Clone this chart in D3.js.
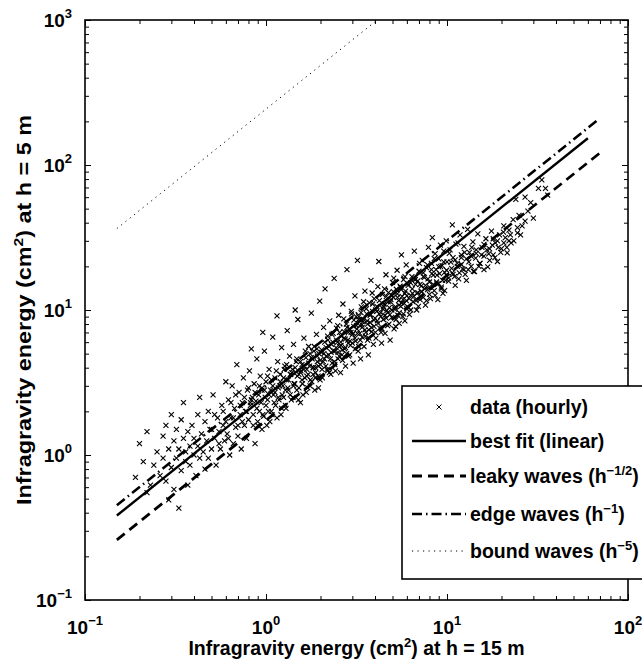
<!DOCTYPE html>
<html>
<head>
<meta charset="utf-8">
<script src="https://cdn.jsdelivr.net/npm/d3@7"></script>
<style>
body { margin: 0; background: #fff; }
text { font-family: "Liberation Sans", Arial, Helvetica, sans-serif; font-weight: bold; fill: #000; }
</style>
</head>
<body>
<div id="chart"></div>
<script>
// hourly energies: [E at 15 m, E at 5 m]
var scatterLow = [[0.19,0.7],[0.2,1.2],[0.21,0.9],[0.22,1.45],[0.22,0.55],[0.23,0.62],[0.24,0.85],[0.25,1.05],[0.26,0.72],[0.27,0.95],[0.27,1.35],[0.28,1.6],[0.28,0.66],[0.29,1.1],[0.29,0.49],[0.30,0.82],[0.30,1.9],[0.31,0.58],[0.31,1.25],[0.32,0.95],[0.32,1.5],[0.33,0.43],[0.33,1.1],[0.34,0.78],[0.34,1.75],[0.35,1.3],[0.35,2.3],[0.36,1.05],[0.36,0.9],[0.37,0.62],[0.37,1.45],[0.38,1.15],[0.38,0.85],[0.39,1.6],[0.40,1.0],[0.40,1.3],[0.41,0.72],[0.42,1.9],[0.42,1.15],[0.43,2.5],[0.43,0.95],[0.44,1.4],[0.45,1.05],[0.46,0.8],[0.46,1.7],[0.47,1.25],[0.48,2.0],[0.48,0.95],[0.49,1.5],[0.50,1.1],[0.51,2.6],[0.52,1.3],[0.53,0.85],[0.54,1.8],[0.55,1.45],[0.56,1.1],[0.57,2.2],[0.58,1.6],[0.59,1.25],[0.60,3.2]];
var scatterMidLow = [[0.61,1.4],[0.62,2.4],[0.63,1.0],[0.64,1.8],[0.65,3.0],[0.66,1.2],[0.67,2.1],[0.68,1.55],[0.69,4.2],[0.70,1.35],[0.71,2.7],[0.72,1.9],[0.73,1.1],[0.74,2.3],[0.75,3.4],[0.76,1.6],[0.77,2.0],[0.78,1.3],[0.79,2.8],[0.80,1.75],[0.81,3.8],[0.82,2.2],[0.83,5.4],[0.84,2.5],[0.85,1.9],[0.86,3.1],[0.87,1.2],[0.88,2.35],[0.89,4.6],[0.90,1.7],[0.91,2.6],[0.92,2.0],[0.93,3.5],[0.95,1.5],[0.95,2.9],[0.96,7.0],[0.97,1.85],[0.98,5.2],[0.99,2.5],[1.0,3.2],[1.01,1.6],[1.02,2.4],[1.04,3.9],[1.05,1.7],[1.06,2.8],[1.08,1.9],[1.09,6.5],[1.1,2.6],[1.12,3.4],[1.13,2.2],[1.15,9.1],[1.16,4.4],[1.17,2.9],[1.18,2.4],[1.2,3.6],[1.21,1.9],[1.22,5.5],[1.24,3.0],[1.25,2.5],[1.27,4.1],[1.28,2.2],[1.3,3.3],[1.31,7.2],[1.33,2.8],[1.35,4.8],[1.36,3.6],[1.38,2.4],[1.4,3.9],[1.42,5.8],[1.43,3.1],[1.45,10.0],[1.47,4.4],[1.49,3.5],[1.5,8.6],[1.52,2.9],[1.55,2.3],[1.56,3.8],[1.58,4.2],[1.6,2.6],[1.62,6.4],[1.64,3.4],[1.66,4.7],[1.68,3.9],[1.7,2.9],[1.72,5.6],[1.74,4.1],[1.76,3.3],[1.78,9.5],[1.8,4.6],[1.82,3.6],[1.84,5.2],[1.86,2.8],[1.88,4.0],[1.9,6.8],[1.92,4.4],[1.94,3.5],[1.96,5.0],[1.98,11.5],[2.0,4.2]];
var scatterMid = [[2.02,5.1],[2.05,3.4],[2.08,7.6],[2.1,4.6],[2.12,14.0],[2.15,5.5],[2.18,3.9],[2.2,6.2],[2.22,4.9],[2.25,8.4],[2.28,3.6],[2.3,5.8],[2.32,4.3],[2.35,6.9],[2.38,16.5],[2.4,5.2],[2.42,3.8],[2.45,7.5],[2.48,6.0],[2.5,4.6],[2.52,9.2],[2.55,5.6],[2.58,3.7],[2.6,6.6],[2.63,4.9],[2.66,11.0],[2.7,7.1],[2.72,5.4],[2.75,4.1],[2.78,8.0],[2.8,19.0],[2.83,6.2],[2.86,4.8],[2.9,7.4],[2.93,5.7],[2.96,9.8],[3.0,6.8],[3.03,4.3],[3.06,8.5],[3.1,12.5],[3.13,6.1],[3.16,7.8],[3.2,22.0],[3.23,5.2],[3.26,9.0],[3.3,6.9],[3.33,4.6],[3.36,10.5],[3.4,7.6],[3.44,8.3],[3.48,5.6],[3.52,13.5],[3.56,7.0],[3.6,9.4],[3.64,6.2],[3.68,4.9],[3.72,11.2],[3.76,8.2],[3.8,16.0],[3.84,7.1],[3.88,9.8],[3.92,5.8],[3.96,12.0],[4.0,8.8],[4.05,6.4],[4.1,10.6],[4.15,14.5],[4.2,21.6],[4.25,7.5],[4.3,9.6],[4.35,5.9],[4.4,12.8],[4.45,8.6],[4.5,11.0],[4.55,6.9],[4.6,17.5],[4.65,9.9],[4.7,7.8],[4.75,13.2],[4.8,10.4],[4.85,6.2],[4.9,11.8],[4.95,8.9],[5.0,15.5],[5.05,12.2],[5.1,7.4],[5.15,10.1],[5.2,7.7],[5.25,13.9],[5.3,18.8],[5.35,9.2],[5.4,11.6],[5.45,8.1],[5.5,14.6],[5.55,10.6],[5.6,24.0],[5.65,12.4],[5.7,9.0],[5.75,16.2],[5.8,11.1],[5.85,8.4],[5.9,13.5],[5.95,20.5],[6.0,10.2],[6.1,14.8],[6.2,9.3],[6.3,12.6],[6.4,17.0],[6.5,11.4],[6.6,25.5],[6.7,15.0],[6.8,10.0],[6.9,13.2],[7.0,18.5],[7.1,11.8],[7.2,14.6],[7.3,22.0],[7.4,12.2],[7.5,16.8],[7.6,10.8],[7.7,19.6],[7.8,13.8],[7.9,27.0],[8.0,15.6]];
var scatterHigh = [[8.1,12.0],[8.2,21.0],[8.3,31.6],[8.4,17.4],[8.5,13.6],[8.6,24.5],[8.7,19.0],[8.8,15.2],[8.9,11.8],[9.0,22.5],[9.1,17.8],[9.2,28.0],[9.3,14.4],[9.4,20.2],[9.5,13.0],[9.6,25.5],[9.7,18.2],[9.8,16.0],[9.9,30.0],[10.0,21.5],[10.2,15.8],[10.4,26.0],[10.6,19.4],[10.7,38.6],[10.8,23.0],[11.0,17.0],[11.2,28.5],[11.4,21.0],[11.6,16.4],[11.8,33.0],[12.0,24.0],[12.2,19.2],[12.4,27.5],[12.6,17.6],[12.8,22.5],[13.0,36.0],[13.3,25.0],[13.6,20.0],[13.9,29.5],[14.2,18.4],[14.5,24.6],[14.8,33.5],[15.2,21.0],[15.6,27.0],[16.0,23.5],[16.4,31.0],[16.8,19.8],[17.2,26.4],[17.6,35.0],[18.0,24.0],[18.5,29.0],[19.0,21.6],[19.5,33.0],[20.0,26.5],[20.6,38.0],[21.0,31.6],[21.5,24.8],[22.0,35.5],[22.6,29.0],[23.2,42.0],[24.0,58.0],[24.5,34.0],[25.0,45.0],[26.0,38.0],[27.0,60.0],[28.0,48.0],[29.0,55.0],[30.0,43.0],[32.0,69.0],[33.4,79.0],[35.0,69.0],[36.0,62.0]];
var scatterCore = [[0.82,2.3],[0.9,1.6],[0.95,2.8],[1.03,2.0],[1.07,3.3],[1.11,2.3],[1.15,1.8],[1.19,3.0],[1.23,2.6],[1.26,3.9],[1.29,2.1],[1.32,2.9],[1.37,3.6],[1.41,2.5],[1.44,3.1],[1.48,4.6],[1.51,2.4],[1.55,3.7],[1.59,3.1],[1.63,4.1],[1.67,2.7],[1.71,3.6],[1.75,5.0],[1.79,3.2],[1.83,4.0],[1.87,3.4],[1.91,5.4],[1.95,2.9],[1.99,4.5],[2.04,3.9],[2.09,5.0],[2.14,4.1],[2.19,6.6],[2.24,3.7],[2.29,5.1],[2.34,6.0],[2.39,4.4],[2.44,5.5],[2.49,7.8],[2.54,4.8],[2.59,6.0],[2.64,5.3],[2.69,8.7],[2.74,6.3],[2.79,5.0],[2.85,7.0],[2.91,6.1],[2.97,9.4],[3.04,6.9],[3.11,5.4],[3.18,7.4],[3.25,8.6],[3.32,6.2],[3.39,7.9],[3.46,11.4],[3.54,6.6],[3.62,8.4],[3.7,7.3],[3.78,9.3],[3.86,13.1],[3.95,7.7],[4.03,10.0],[4.12,8.4],[4.22,9.4],[4.32,7.0],[4.42,10.2],[4.52,14.0],[4.62,8.8],[4.73,11.4],[4.84,9.3],[4.96,12.6],[5.08,16.6],[5.2,10.5],[5.32,12.9],[5.45,9.6],[5.58,13.8],[5.72,11.8],[5.86,17.0],[6.0,12.5],[6.15,10.4],[6.3,15.4],[6.45,13.0],[6.6,16.3],[6.75,11.6],[6.9,15.9],[7.05,21.0],[7.2,13.4],[7.4,17.0],[7.6,14.8],[7.8,20.5],[8.0,12.8],[8.25,17.8],[8.5,22.6],[8.75,15.6],[9.0,19.8],[9.3,14.0],[9.6,21.5],[9.9,17.4],[10.3,24.6],[10.7,18.0],[11.1,22.2],[11.5,29.0],[12.0,20.6],[12.5,25.0],[13.1,19.0],[13.7,27.0],[14.4,22.8],[15.2,21.0],[16.0,28.4],[17.0,24.4],[18.0,31.0],[19.2,27.0],[20.5,34.5],[22.0,30.0]];
var scatterDenseA = [[0.5,1.5],[0.52,1.9],[0.55,1.2],[0.58,2.0],[0.6,1.7],[0.62,1.3],[0.64,2.3],[0.66,1.8],[0.68,2.6],[0.7,1.6],[0.72,2.2],[0.74,1.7],[0.76,2.5],[0.78,2.0],[0.8,2.9],[0.83,2.4],[0.85,1.6],[0.87,2.7],[0.89,2.1],[0.92,3.0],[0.94,2.3],[0.96,1.9],[0.98,2.8],[1.0,2.2],[1.02,3.5],[1.04,2.6],[1.07,2.0],[1.09,3.0],[1.12,2.7],[1.14,3.8],[1.17,2.5],[1.2,3.2],[1.22,2.1],[1.25,3.4],[1.28,2.8],[1.3,4.2],[1.33,3.3],[1.36,2.6],[1.39,3.7],[1.42,3.0],[1.45,4.0],[1.48,2.8],[1.52,3.6],[1.55,4.4],[1.58,3.3],[1.62,3.9],[1.65,5.2],[1.68,3.5],[1.72,4.3],[1.75,3.0],[1.78,4.7],[1.82,4.0],[1.85,5.6],[1.88,3.7],[1.92,4.8],[1.95,4.1],[1.99,3.3],[2.03,5.3],[2.07,4.4],[2.11,6.0],[2.15,4.8],[2.19,3.8],[2.23,5.6],[2.27,4.6],[2.31,6.8],[2.36,5.2],[2.4,4.2],[2.45,6.2],[2.5,5.1],[2.55,7.0],[2.6,5.7],[2.65,4.5],[2.7,6.4],[2.75,5.5],[2.8,7.6],[2.85,5.9],[2.9,4.9],[2.95,7.0]];
var scatterDenseB = [[3.0,5.9],[3.05,7.7],[3.1,6.4],[3.15,9.0],[3.2,6.9],[3.25,5.6],[3.3,7.8],[3.35,9.6],[3.4,6.5],[3.46,8.6],[3.52,7.3],[3.58,10.2],[3.64,8.0],[3.7,6.4],[3.76,9.2],[3.82,7.6],[3.88,11.0],[3.95,8.5],[4.02,7.0],[4.09,9.8],[4.16,8.1],[4.23,11.6],[4.3,9.0],[4.38,7.4],[4.46,10.6],[4.54,9.2],[4.62,12.4],[4.7,9.6],[4.78,8.0],[4.87,11.4],[4.96,10.0],[5.05,13.4],[5.14,10.4],[5.23,8.6],[5.33,12.2],[5.43,10.8],[5.53,14.4],[5.63,11.2],[5.74,9.4],[5.85,13.0],[5.96,11.6],[6.07,15.2],[6.19,12.0],[6.31,10.0],[6.43,14.0],[6.56,12.4],[6.69,16.2],[6.82,13.0],[6.95,10.6],[7.1,15.0],[7.25,13.4],[7.4,18.0],[7.55,14.0],[7.7,11.6],[7.85,16.4],[8.0,14.4],[8.2,19.0],[8.4,15.0],[8.6,12.6],[8.8,17.4],[9.0,15.2],[9.2,20.0],[9.45,16.0],[9.7,13.6],[9.95,18.8],[10.2,16.6],[10.5,21.4],[10.8,17.6],[11.1,14.8],[11.4,20.0],[11.7,18.0],[12.0,23.0],[12.4,19.0],[12.8,16.0],[13.2,21.5],[13.6,23.5],[14.0,18.5],[14.5,26.0],[15.0,20.0],[15.5,24.0],[16.0,19.0],[16.6,26.0],[17.2,22.0],[17.8,28.0],[18.4,23.0],[19.0,30.0],[19.8,25.0],[20.6,29.0],[21.4,27.0],[22.4,33.0],[23.4,30.0],[24.5,37.0],[25.5,33.0],[27.0,41.0]];

// straight lines y = k * x (E5 = k * E15)
var lineNames = ["best fit", "leaky", "edge", "bound"];
var lineFactors = [2.55, 1.732, 3, 243];
var lineStart = [0.15, 0.15, 0.15, 0.15];
var lineEnd = [60, 73, 68, 70];

var legendNames = ["data (hourly)", "best fit (linear)", "leaky waves (h", "edge waves (h", "bound waves (h"];
var legendSups = ["", "", "\u22121/2", "\u22121", "\u22125"];

var xMajor = [0.1, 1, 10, 100];
var xExp = ["\u22121", "0", "1", "2"];
var yMajor = [0.1, 1, 10, 100, 1000];
var yExp = ["\u22121", "0", "1", "2", "3"];

var width = 642, height = 662;
var margin = {left: 85, right: 628, top: 20, bottom: 600};

var x = d3.scaleLog().domain([0.1, 100]).range([margin.left, margin.right]);
var y = d3.scaleLog().domain([0.1, 1000]).range([margin.bottom, margin.top]);

var svg = d3.select("#chart").append("svg")
    .attr("width", width)
    .attr("height", height)
    .style("display", "block");

svg.append("rect").attr("width", width).attr("height", height).attr("fill", "#fff");

svg.append("clipPath").attr("id", "plotclip")
  .append("rect")
    .attr("x", margin.left).attr("y", margin.top)
    .attr("width", margin.right - margin.left).attr("height", margin.bottom - margin.top);

var lineStyle = {
  "best fit": {w: 2.4, dash: null},
  "leaky": {w: 2.8, dash: "10,6"},
  "edge": {w: 2.6, dash: "10,4,1.5,4"},
  "bound": {w: 1, dash: "1.2,4.3"}
};

var plot = svg.append("g").attr("clip-path", "url(#plotclip)");

var allPoints = scatterLow.concat(scatterMidLow, scatterMid, scatterHigh, scatterCore, scatterDenseA, scatterDenseB);

var s = 2.5;
function cross(px, py) {
  return "M" + (px - s) + "," + (py - s) + "L" + (px + s) + "," + (py + s) +
         "M" + (px - s) + "," + (py + s) + "L" + (px + s) + "," + (py - s);
}

plot.append("g")
  .selectAll("path")
  .data(allPoints)
  .enter().append("path")
    .attr("d", function(d) { return cross(x(d[0]), y(d[1])); })
    .attr("stroke", "#000")
    .attr("stroke-width", 1.1)
    .attr("fill", "none");

var line = d3.line().x(function(d) { return x(d[0]); }).y(function(d) { return y(d[1]); });

lineNames.forEach(function(name, i) {
  var pts = [[lineStart[i], lineStart[i] * lineFactors[i]], [lineEnd[i], lineEnd[i] * lineFactors[i]]];
  plot.append("path")
    .datum(pts)
    .attr("d", line)
    .attr("fill", "none")
    .attr("stroke", "#000")
    .attr("stroke-width", lineStyle[name].w)
    .attr("stroke-dasharray", lineStyle[name].dash);
});

// axes, ticks pointing inward on all four sides
var xMinor = x.ticks().filter(function(v) { return xMajor.indexOf(v) < 0; });
var yMinor = y.ticks().filter(function(v) { return yMajor.indexOf(v) < 0; });

function tickAxis(axisFn, scale, vals, size, tx, ty) {
  var g = svg.append("g")
    .attr("transform", "translate(" + tx + "," + ty + ")")
    .call(axisFn(scale).tickValues(vals).tickSize(-size).tickFormat(""));
  g.select(".domain").remove();
  g.selectAll("line").attr("stroke", "#000").attr("stroke-width", 1);
}

tickAxis(d3.axisBottom, x, xMinor, 4, 0, margin.bottom);
tickAxis(d3.axisBottom, x, xMajor, 6, 0, margin.bottom);
tickAxis(d3.axisTop, x, xMinor, 4, 0, margin.top);
tickAxis(d3.axisTop, x, xMajor, 6, 0, margin.top);
tickAxis(d3.axisLeft, y, yMinor, 4, margin.left, 0);
tickAxis(d3.axisLeft, y, yMajor, 6, margin.left, 0);
tickAxis(d3.axisRight, y, yMinor, 4, margin.right, 0);
tickAxis(d3.axisRight, y, yMajor, 6, margin.right, 0);

svg.append("rect")
  .attr("x", margin.left).attr("y", margin.top)
  .attr("width", margin.right - margin.left).attr("height", margin.bottom - margin.top)
  .attr("fill", "none")
  .attr("stroke", "#000")
  .attr("stroke-width", 1.6);

// tick labels 10^n
xMajor.forEach(function(v, i) {
  var t = svg.append("text")
    .attr("x", x(v))
    .attr("y", margin.bottom + 34)
    .attr("text-anchor", "middle")
    .style("font-size", "19px");
  t.append("tspan").text("10");
  t.append("tspan").attr("dy", -9).style("font-size", "13px").text(xExp[i]);
});

yMajor.forEach(function(v, i) {
  var t = svg.append("text")
    .attr("x", margin.left - 13)
    .attr("y", y(v) + 7)
    .attr("text-anchor", "end")
    .style("font-size", "19px");
  t.append("tspan").text("10");
  t.append("tspan").attr("dy", -9).style("font-size", "13px").text(yExp[i]);
});

// axis titles
var xt = svg.append("text")
  .attr("x", (margin.left + margin.right) / 2)
  .attr("y", 655)
  .attr("text-anchor", "middle")
  .style("font-size", "19.5px");
xt.append("tspan").text("Infragravity energy (cm");
xt.append("tspan").attr("dy", -8).style("font-size", "13px").text("2");
xt.append("tspan").attr("dy", 8).text(") at h = 15 m");

// the rotated title is drawn longer in the original figure
var yt = svg.append("text")
  .attr("transform", "translate(31," + ((margin.top + margin.bottom) / 2) + ") rotate(-90) scale(1.2,1)")
  .attr("text-anchor", "middle")
  .style("font-size", "19.5px");
yt.append("tspan").text("Infragravity energy (cm");
yt.append("tspan").attr("dy", -8).style("font-size", "13px").text("2");
yt.append("tspan").attr("dy", 8).text(") at h = 5 m");

// legend
var leg = svg.append("g");
leg.append("rect")
  .attr("x", 402).attr("y", 386)
  .attr("width", 260).attr("height", 193)
  .attr("fill", "#fff")
  .attr("stroke", "#000")
  .attr("stroke-width", 1.6);

var rowY = [407, 441, 476, 514, 551];
legendNames.forEach(function(name, i) {
  var cy = rowY[i];
  if (i === 0) {
    leg.append("path")
      .attr("d", cross(439, cy))
      .attr("stroke", "#000").attr("stroke-width", 1);
  } else {
    var st = lineStyle[lineNames[i - 1]];
    leg.append("line")
      .attr("x1", 412).attr("x2", 466)
      .attr("y1", cy).attr("y2", cy)
      .attr("stroke", "#000")
      .attr("stroke-width", st.w)
      .attr("stroke-dasharray", st.dash);
  }
  var t = leg.append("text")
    .attr("x", 470)
    .attr("y", cy + 7)
    .style("font-size", "19.5px");
  t.append("tspan").text(name);
  if (legendSups[i]) {
    t.append("tspan").attr("dy", -8).style("font-size", "13px").text(legendSups[i]);
    t.append("tspan").attr("dy", 8).text(")");
  }
});
</script>
</body>
</html>
